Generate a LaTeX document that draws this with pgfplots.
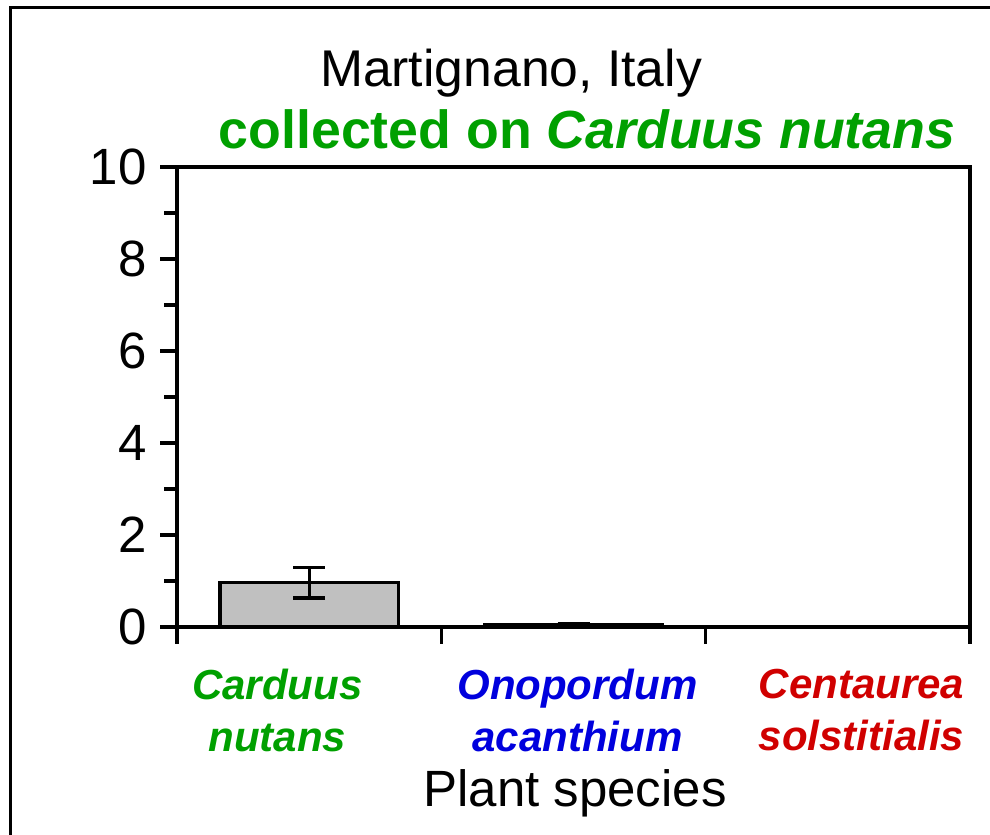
\documentclass[border=0pt]{standalone}
\usepackage{pgfplots}
\pgfplotsset{compat=1.18}
\usepackage{fontspec}
\setmainfont{Liberation Sans}
\definecolor{cgreen}{RGB}{0,160,0}
\definecolor{cblue}{RGB}{0,0,221}
\definecolor{cred}{RGB}{208,0,0}
\definecolor{barfill}{RGB}{192,192,192}
\begin{document}
\begin{tikzpicture}
\useasboundingbox (0,0) rectangle (297pt,250.5pt);
\draw[line width=1pt] (3.15pt,0pt) -- (3.15pt,248.25pt) -- (297pt,248.25pt);
\begin{axis}[
  at={(53.1pt,62.4pt)}, anchor=south west,
  scale only axis, width=237.9pt, height=138pt,
  xmin=-0.5, xmax=2.5, ymin=0, ymax=10,
  axis line style={line width=1pt},
  every tick/.style={line width=1pt, black},
  tick align=outside,
  xtick pos=bottom, ytick pos=left,
  xtick={-0.5,0.5,1.5,2.5}, xticklabels={},
  ytick={0,2,4,6,8,10},
  minor y tick num=1,
  major tick length=5.1pt, minor tick length=3.9pt,
  /pgf/number format/assume math mode=true,
  y tick label style={font=\fontsize{15.3}{18}\selectfont, xshift=-0.5pt},
  extra x ticks={-0.121,1.015,2.09},
  extra x tick labels={\textcolor{cgreen}{Carduus}\\\textcolor{cgreen}{nutans},
                       \textcolor{cblue}{Onopordum}\\\textcolor{cblue}{acanthium},
                       \textcolor{cred}{Centaurea}\\\textcolor{cred}{solstitialis}},
  extra x tick style={major tick length=0pt,
     tick label style={font=\fontsize{12.6}{15.6}\selectfont\bfseries\itshape, align=center, anchor=north, yshift=-9pt}},
]
\addplot[ybar, bar width=0.674, fill=barfill, draw=black, line width=1pt,
  error bars/.cd, y dir=both, y explicit,
  error bar style={line width=1pt, black},
  error mark options={rotate=90, mark size=4.8pt, line width=1pt, black}]
  coordinates {(0,0.96) +- (0,0.33) (1,0.05) +- (0,0.03) (2,0) +- (0,0)};
\end{axis}
\node[anchor=base, font=\fontsize{15.5}{18}\selectfont] at (153.3pt,224.4pt) {Martignano, Italy};
\node[anchor=base, font=\fontsize{16.1}{19}\selectfont\bfseries, text=cgreen] at (176.1pt,205.8pt) {collected on \textit{Carduus nutans}};
\node[anchor=base, font=\fontsize{15.3}{18}\selectfont] at (172.5pt,8.4pt) {Plant species};
\end{tikzpicture}
\end{document}
